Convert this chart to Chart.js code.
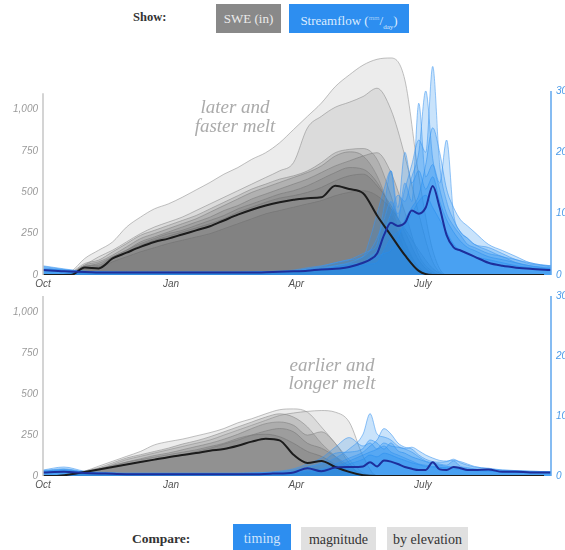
<!DOCTYPE html>
<html>
<head>
<meta charset="utf-8">
<script src="https://cdn.jsdelivr.net/npm/chart.js@4"></script>
<style>
  body { margin: 0; width: 565px; height: 550px; overflow: hidden; background: #fff; position: relative; font-family: "Liberation Serif", "DejaVu Serif", serif; }
  .box { position: absolute; left: 0; width: 580px; }
  .lbl { position: absolute; font-family: "Liberation Serif", serif; font-weight: bold; color: #333; }
  .btn { position: absolute; text-align: center; font-family: "Liberation Serif", serif; }
  .note { position: absolute; width: 180px; text-align: center; font-family: "Liberation Serif", serif; font-style: italic; font-size: 19px; color: #aaa; z-index: 2; }
  sup, sub { font-size: 7px; }
</style>
</head>
<body>

<div class="lbl" style="left:133px; top:10px; font-size:12.5px;">Show:</div>
<div class="btn" style="left:216px; top:4px; width:65px; height:29px; line-height:29px; background:#898989; color:#ececec; font-size:13px;">SWE (in)</div>
<div class="btn" style="left:289px; top:4px; width:120px; height:29px; line-height:29px; background:#2d8ef0; color:#dcecff; font-size:13px;">Streamflow (<sup style="color:#9cc8f6">mm</sup>/<sub>day</sub>)</div>

<div class="box" style="top:45px; height:248px;"><canvas id="top_chart"></canvas></div>
<div class="box" style="top:285px; height:209px;"><canvas id="bottom_chart"></canvas></div>

<div class="note" style="left:145px; top:97px; line-height:19px;">later and<br>faster melt</div>
<div class="note" style="left:242px; top:356px; line-height:18px;">earlier and<br>longer melt</div>

<div class="lbl" style="left:132px; top:531px; font-size:13.5px;">Compare:</div>
<div class="btn" style="left:233px; top:524px; width:58px; height:30px; line-height:30px; background:#2d8ef0; color:#cfe4fb; font-size:14px;">timing</div>
<div class="btn" style="left:301px; top:527px; width:75px; height:26px; line-height:26px; background:#e0e0e0; color:#333; font-size:14px;">magnitude</div>
<div class="btn" style="left:387px; top:527px; width:81px; height:26px; line-height:26px; background:#e0e0e0; color:#333; font-size:14px;">by elevation</div>

<script>
// water year days since Oct 1
const sweDays = [0,10,20,30,40,50,60,70,80,90,100,110,120,130,140,150,160,170,180,190,200,210,220,230,240,250,260,270,280,290,300,310,320,330,340,350,360];
const flowDays = [0,15,30,45,60,75,90,105,120,135,150,165,180,190,200,210,220,230,235,240,245,250,255,260,265,270,275,280,285,290,295,300,305,310,320,330,340,350,365];

const monthDays = [0, 92, 182, 273];
const monthNames = ["Oct", "Jan", "Apr", "July"];
const sweTicks = [0, 250, 500, 750, 1000];
const flowTicks = [0, 10, 20, 30];

// top panel: SWE
const topSweMedian = [0,0,0,45,40,100,135,170,200,220,245,270,295,330,365,395,420,440,455,465,470,540,520,495,360,240,120,25,0,0,0,0,0,0,0,0,0];
const topSwe1 = [0,0,20,100,150,200,290,350,400,430,470,515,560,610,650,700,740,800,880,960,1040,1140,1210,1270,1305,1313,1180,600,150,0,0,0,0,0,0,0,0];
const topSwe2 = [0,0,10,60,110,150,200,250,290,320,350,390,430,470,510,550,590,630,680,890,960,1015,1045,1080,1130,1000,720,370,80,0,0,0,0,0,0,0,0];
const topSwe3 = [0,0,15,70,90,140,190,240,270,300,330,360,400,440,480,520,550,580,600,630,680,740,760,765,700,480,200,50,0,0,0,0,0,0,0,0,0];
const topSwe4 = [0,0,10,60,80,120,170,220,250,280,310,340,380,420,460,500,530,560,590,620,660,720,745,720,600,380,150,20,0,0,0,0,0,0,0,0,0];
const topSwe5 = [0,0,5,50,70,110,150,200,230,260,290,320,350,390,420,460,490,520,550,580,620,660,690,720,740,620,380,120,20,0,0,0,0,0,0,0,0];
const topSwe6 = [0,0,10,55,60,110,150,190,220,250,270,300,330,360,400,430,460,490,510,540,580,620,650,640,560,400,200,40,0,0,0,0,0,0,0,0,0];
const topSwe7 = [0,0,0,45,50,100,140,180,210,235,260,285,310,340,380,410,440,465,480,500,530,570,600,610,540,420,260,90,10,0,0,0,0,0,0,0,0];
const topSwe8 = [0,0,0,35,40,80,110,140,165,190,210,230,250,280,310,340,370,390,410,430,450,480,500,510,480,400,280,150,40,0,0,0,0,0,0,0,0];

// top panel: streamflow
const topFlowMedian = [0.8,0.6,0.5,0.4,0.4,0.4,0.4,0.4,0.4,0.4,0.4,0.5,0.6,0.7,0.9,1.0,1.3,2.0,2.5,3.5,6.5,8.5,8.0,8.5,10.5,10,11,14.5,11,6.5,4.5,4,3.5,3,2,1.5,1.2,1.0,0.8];
const topFlow1 = [1.5,1.0,0.6,0.5,0.5,0.5,0.5,0.5,0.5,0.5,0.5,0.6,0.6,0.8,1,1.5,2,3,4,6,9,12,10,14,18,22,20,34,18,12,9,7,6,5,4,3,2.5,1.8,1.5];
const topFlow2 = [1.4,0.9,0.6,0.5,0.5,0.5,0.5,0.5,0.5,0.5,0.5,0.5,0.6,1.0,1.2,1.5,1.8,2,3,4,7,10,13,12,16,20,30,19,14,10,8,6.5,5,4.5,3.5,3,2,1.5,1.2];
const topFlow3 = [1.2,0.8,0.6,0.5,0.4,0.4,0.4,0.4,0.4,0.4,0.5,0.5,0.7,1.0,1.4,2,2.5,3.5,4,5,11,17,9,15,12,28,16,18,15,22,10,7,6,5,4.5,3.5,2.5,2,1.3];
const topFlow4 = [1.0,0.8,0.5,0.5,0.4,0.4,0.4,0.4,0.4,0.4,0.5,0.6,0.8,1.2,1.5,2,2.5,3,6,10,14,17,11,20,15,17,14,16,12,9,7,5.5,4.5,4,3,2.5,2,1.5,1];
const topFlow5 = [0.9,0.7,0.5,0.4,0.4,0.4,0.4,0.4,0.4,0.4,0.4,0.5,0.6,0.8,1,1.2,1.5,2,2.5,3,3.5,4,6,9,11,13,18,24,20,14,11,9,8,7,5,4,3,2,1.5];
const topFlow6 = [0.8,0.6,0.5,0.4,0.4,0.4,0.4,0.4,0.4,0.4,0.4,0.5,0.6,0.8,1,1.2,1.4,1.6,1.8,2,4,6,7,8,10,12,13,11,9,7,5,4,3.5,3,2.5,2,1.5,1.2,1];

// bottom panel: SWE
const botSweMedian = [0,0,10,25,40,55,70,85,100,115,128,140,155,165,185,210,228,218,130,80,92,55,25,5,0,0,0,0,0,0,0,0,0,0,0,0,0];
const botSwe1 = [0,0,10,30,60,90,120,150,190,210,225,245,265,290,325,350,380,405,410,390,300,200,100,20,0,0,0,0,0,0,0,0,0,0,0,0,0];
const botSwe2 = [0,0,5,20,40,70,100,120,140,160,180,200,220,250,280,310,340,370,385,395,400,390,330,120,0,0,0,0,0,0,0,0,0,0,0,0,0];
const botSwe3 = [0,0,10,30,50,80,110,130,150,170,195,215,240,270,300,330,360,380,360,300,200,120,40,0,0,0,0,0,0,0,0,0,0,0,0,0,0];
const botSwe4 = [0,0,5,20,40,60,85,105,125,140,160,180,200,225,255,290,320,330,310,250,270,200,80,0,0,0,0,0,0,0,0,0,0,0,0,0,0];
const botSwe5 = [0,0,5,20,35,50,70,85,100,115,130,150,170,195,220,250,275,290,270,200,170,120,60,10,0,0,0,0,0,0,0,0,0,0,0,0,0];
const botSwe6 = [0,0,10,25,45,65,85,100,115,130,145,160,180,200,230,250,255,240,200,150,120,70,20,0,0,0,0,0,0,0,0,0,0,0,0,0,0];

// bottom panel: streamflow
const botFlowMedian = [0.6,0.7,0.5,0.4,0.3,0.3,0.3,0.3,0.3,0.3,0.3,0.4,0.6,1.3,0.8,1.4,1.5,1.6,2.3,1.6,2.6,2.4,2.0,1.5,1.2,1.0,1.0,2.3,1.1,1.0,1.5,1.3,1.0,1.0,1.1,0.7,0.7,0.6,0.6];
const botFlow1 = [1.0,1.5,0.8,0.6,0.5,0.5,0.5,0.5,0.5,0.5,0.5,0.6,0.8,1.5,2,3,4.5,7,10.4,7,6.5,6,5,4.5,4,3.2,2.5,2.2,2,1.8,2.5,1.6,1.4,1.2,1.0,0.9,0.8,0.7,0.6];
const botFlow2 = [0.9,1.2,0.7,0.5,0.4,0.4,0.4,0.4,0.4,0.4,0.4,0.5,0.7,1.0,1.2,2,3,4,5,6,7.9,7,5.5,4.8,4.5,3.5,2.8,2.4,2.3,2.4,2.8,2.2,1.8,1.5,1.3,1.0,0.9,0.8,0.7];
const botFlow3 = [0.8,1.0,0.6,0.5,0.4,0.4,0.4,0.4,0.4,0.4,0.5,0.7,1.2,2,3,4.8,6.4,5,5.5,4.5,5,4,3.5,3,2.5,2,1.8,1.6,1.5,1.4,1.3,1.2,1.0,1.0,0.9,0.8,0.7,0.7,0.6];
const botFlow4 = [0.7,0.9,0.6,0.4,0.4,0.4,0.4,0.4,0.4,0.4,0.4,0.5,0.6,0.8,1.0,1.5,2.5,3.5,4,4.5,5.5,5,4.8,4.6,4.8,4.2,3.5,3,2.6,2.5,2.6,2.4,2.0,1.6,1.2,1.0,0.9,0.8,0.7];
const botFlow5 = [0.6,0.8,0.5,0.4,0.3,0.3,0.3,0.3,0.3,0.3,0.4,0.5,0.6,0.7,0.8,1.2,2,2.8,3.5,3.2,3.8,3.5,3,2.6,2.2,1.9,1.6,1.5,1.4,1.3,1.2,1.1,1.0,0.9,0.8,0.7,0.6,0.6,0.5];
const botFlow6 = [0.8,1.1,0.6,0.5,0.4,0.4,0.4,0.4,0.4,0.4,0.5,0.6,1.0,1.5,2.2,3.8,4,4.6,6,5.5,4.5,5.5,4.2,3.8,3.2,2.8,2.4,2.0,1.8,1.6,1.5,1.4,1.2,1.1,1.0,0.8,0.7,0.6,0.6];

function points(days, vals) {
  return vals.map((v, i) => ({ x: days[i], y: v }));
}

function sweSet(vals, alpha) {
  return {
    data: points(sweDays, vals), yAxisID: 'swe', fill: 'origin',
    backgroundColor: 'rgba(100,100,100,' + alpha + ')',
    borderColor: 'rgba(150,150,150,0.6)', borderWidth: 1,
    pointRadius: 0, cubicInterpolationMode: 'monotone', order: 4
  };
}

function flowSet(vals) {
  return {
    data: points(flowDays, vals), yAxisID: 'flow', fill: 'origin',
    backgroundColor: 'rgba(30,136,240,0.24)',
    borderColor: 'rgba(60,150,240,0.55)', borderWidth: 1,
    pointRadius: 0, cubicInterpolationMode: 'monotone', order: 3
  };
}

function medianSet(days, vals, axis, color, order) {
  return {
    data: points(days, vals), yAxisID: axis, fill: false,
    borderColor: color, borderWidth: 2,
    pointRadius: 0, cubicInterpolationMode: 'monotone', order: order
  };
}

const axisLines = {
  id: 'axisLines',
  afterDatasetsDraw(chart, args, opts) {
    const { ctx, chartArea, scales } = chart;
    ctx.save();
    ctx.lineWidth = 1.5;
    ctx.strokeStyle = '#c6c6c6';
    ctx.beginPath();
    ctx.moveTo(chartArea.left, scales.swe.getPixelForValue(0));
    ctx.lineTo(chartArea.left, scales.swe.getPixelForValue(opts.sweTop));
    ctx.stroke();
    ctx.strokeStyle = '#5ea6ee';
    ctx.beginPath();
    ctx.moveTo(chartArea.right, scales.flow.getPixelForValue(0));
    ctx.lineTo(chartArea.right, scales.flow.getPixelForValue(30));
    ctx.stroke();
    ctx.restore();
  }
};

function makeChart(el, datasets, sweMax, flowMax, sweTop, padTop) {
  const tickFont = { family: 'Liberation Sans, sans-serif', size: 10, style: 'italic' };
  return new Chart(el, {
    type: 'line',
    data: { datasets: datasets },
    plugins: [axisLines],
    options: {
      responsive: true,
      maintainAspectRatio: false,
      animation: false,
      layout: { padding: { top: padTop, left: 0, right: 0, bottom: 0 } },
      plugins: {
        legend: { display: false },
        tooltip: { enabled: false },
        axisLines: { sweTop: sweTop }
      },
      scales: {
        x: {
          type: 'linear', min: 0, max: 365,
          grid: { display: false, drawTicks: false }, border: { display: false },
          afterBuildTicks: s => { s.ticks = monthDays.map(v => ({ value: v })); },
          afterFit: s => { s.height = 18; },
          ticks: {
            autoSkip: false, maxRotation: 0, padding: 3, color: '#555', font: tickFont,
            callback: (v, i) => monthNames[i]
          }
        },
        swe: {
          type: 'linear', position: 'left', min: 0, max: sweMax,
          grid: { display: false, drawTicks: false }, border: { display: false },
          afterBuildTicks: s => { s.ticks = sweTicks.map(v => ({ value: v })); },
          afterFit: s => { s.width = 43; },
          ticks: {
            padding: 5, color: '#9a9a9a', font: tickFont,
            callback: v => v.toLocaleString('en-US')
          }
        },
        flow: {
          type: 'linear', position: 'right', min: 0, max: flowMax,
          grid: { display: false, drawTicks: false }, border: { display: false },
          afterBuildTicks: s => { s.ticks = flowTicks.map(v => ({ value: v })); },
          afterFit: s => { s.width = 29; },
          ticks: { padding: 5, color: '#4b9be9', font: tickFont }
        }
      }
    }
  });
}

makeChart(document.getElementById('top_chart'), [
  sweSet(topSwe1, 0.12), sweSet(topSwe2, 0.12),
  sweSet(topSwe3, 0.2), sweSet(topSwe4, 0.2), sweSet(topSwe5, 0.2),
  sweSet(topSwe6, 0.2), sweSet(topSwe7, 0.2), sweSet(topSwe8, 0.2),
  flowSet(topFlow1), flowSet(topFlow2), flowSet(topFlow3),
  flowSet(topFlow4), flowSet(topFlow5), flowSet(topFlow6),
  medianSet(sweDays, topSweMedian, 'swe', '#1c1c1c', 2),
  medianSet(flowDays, topFlowMedian, 'flow', '#1d2f9c', 1)
], 1325, 35.7, 1100, 10);

makeChart(document.getElementById('bottom_chart'), [
  sweSet(botSwe1, 0.12), sweSet(botSwe2, 0.12),
  sweSet(botSwe3, 0.22), sweSet(botSwe4, 0.22), sweSet(botSwe5, 0.22), sweSet(botSwe6, 0.22),
  flowSet(botFlow1), flowSet(botFlow2), flowSet(botFlow3),
  flowSet(botFlow4), flowSet(botFlow5), flowSet(botFlow6),
  medianSet(sweDays, botSweMedian, 'swe', '#1c1c1c', 2),
  medianSet(flowDays, botFlowMedian, 'flow', '#1d2f9c', 1)
], 1100, 30, 1100, 9);
</script>
</body>
</html>
